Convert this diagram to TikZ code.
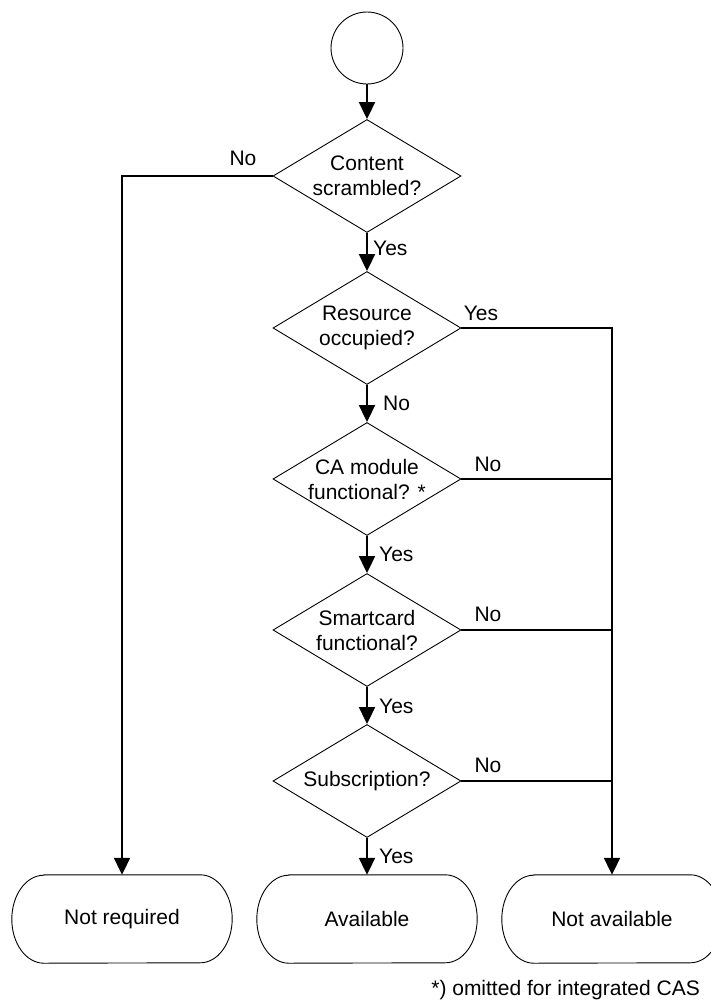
\documentclass[tikz,border=0pt]{standalone}
\usepackage{fontspec}
\setmainfont{Liberation Sans}
\usetikzlibrary{shapes.geometric,arrows.meta}
\begin{document}
\begin{tikzpicture}[x=1pt,y=-1pt,
  font=\fontsize{21pt}{25pt}\selectfont,
  decision/.style={diamond,draw,line width=0.9pt,aspect=1.66,minimum width=188pt,minimum height=113pt,inner sep=-12pt,align=center},
  terminal/.style={rectangle,minimum width=220pt,minimum height=88pt},
  outline/.style={line width=0.9pt},
  lbl/.style={inner sep=0pt},
  flow/.style={line width=2pt},
  arr/.style={flow,-{Triangle[length=17pt,width=16pt]}}]
\useasboundingbox (0,0) rectangle (711,1005);

\node[circle,draw,line width=0.9pt,minimum size=72pt,inner sep=0pt] (start) at (367,48) {};

\node[decision] (scrambled) at (367,176) {Content\\scrambled?};
\node[decision] (occupied) at (367,328) {Resource\\occupied?};
\node[decision] (camodule) at (367,479) {CA module\\functional? *};
\node[decision] (smartcard) at (367,630) {Smartcard\\functional?};
\node[decision] (subscription) at (367,781) {Subscription?};

\node[terminal] (notrequired) at (122,919) {Not required};
\node[terminal] (available) at (367,919) {Available};
\node[terminal] (notavailable) at (612,919) {Not available};
% terminals with elliptic ends
\foreach \t in {notrequired,available,notavailable}
  \draw[outline] ([xshift=32pt]\t.north west) -- ([xshift=-32pt]\t.north east)
    arc[start angle=90,end angle=-90,x radius=32pt,y radius=44pt]
    -- ([xshift=32pt]\t.south west)
    arc[start angle=270,end angle=90,x radius=32pt,y radius=44pt] -- cycle;

\draw[arr] (start) -- (scrambled);
\draw[arr] (scrambled) -- (occupied);
\draw[arr] (occupied) -- (camodule);
\draw[arr] (camodule) -- (smartcard);
\draw[arr] (smartcard) -- (subscription);
\draw[arr] (subscription) -- (available);
\draw[arr] (scrambled.west) -| (notrequired.north);
\draw[arr] (occupied.east) -| (notavailable.north);
\foreach \d in {camodule,smartcard,subscription}
  \draw[flow] (\d.east) -- (\d.east -| notavailable.north);

% branch labels
\node[lbl] (noscr) at (243,158) {No};
\node[lbl,anchor=west] (yesscr) at (373,248) {Yes};
\node[lbl] (yesocc) at (481,313) {Yes};
\node[lbl,anchor=west] (noocc) at (383,403) {No};
\node[lbl] (noca) at (488,464) {No};
\node[lbl,anchor=west] (yesca) at (379,554) {Yes};
\node[lbl] (nosmart) at (488,614) {No};
\node[lbl,anchor=west] (yessmart) at (379,706) {Yes};
\node[lbl] (nosub) at (488,765) {No};
\node[lbl,anchor=west] (yessub) at (379,856) {Yes};

\node[lbl,anchor=base east] (footnote) at (700,995) {*) omitted for integrated CAS};
\end{tikzpicture}
\end{document}
